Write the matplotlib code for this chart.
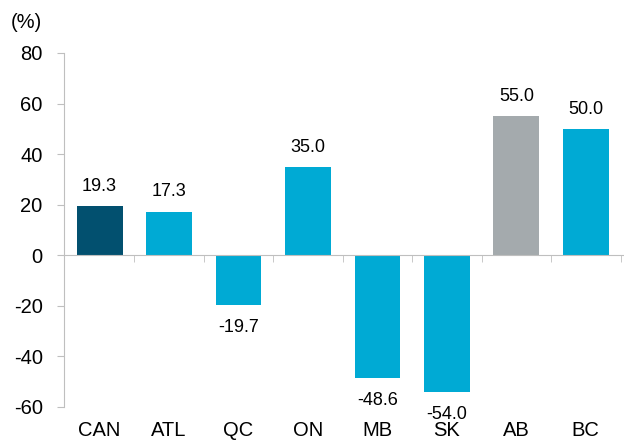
import matplotlib
matplotlib.use('Agg')
import matplotlib.pyplot as plt
import numpy as np

regions = ['CAN', 'ATL', 'QC', 'ON', 'MB', 'SK', 'AB', 'BC']
change = [19.3, 17.3, -19.7, 35.0, -48.6, -54.0, 55.0, 50.0]
bar_colors = ['#02506f', '#00aad4', '#00aad4', '#00aad4', '#00aad4', '#00aad4', '#a4aaad', '#00aad4']
y_ticks = [-60, -40, -20, 0, 20, 40, 60, 80]

plt.rcParams['font.family'] = ['Liberation Sans', 'DejaVu Sans']

fig = plt.figure(figsize=(6.24, 4.42), dpi=100)
ax = fig.add_axes([63.5 / 624, 35 / 442, 1 - 63.5 / 624, (407 - 53) / 442])

x = np.arange(len(regions))
ax.bar(x, change, width=0.66, color=bar_colors, zorder=1)

for xi, v in zip(x, change):
    if v >= 0:
        ax.annotate(f'{v:.1f}', (xi, v), xytext=(0, 8), textcoords='offset points',
                    ha='center', va='bottom', fontsize=13)
    else:
        ax.annotate(f'{v:.1f}', (xi, v), xytext=(0, -10), textcoords='offset points',
                    ha='center', va='top', fontsize=13)

ax.set_xlim(-0.52, 7.55)
ax.set_ylim(-60, 80)
ax.set_yticks(y_ticks)
ax.set_yticklabels([str(t) for t in y_ticks])

gray = '#bfbfbf'
for side in ['right', 'bottom']:
    ax.spines[side].set_visible(False)
ax.spines['left'].set_color(gray)
ax.spines['top'].set_position(('data', 0))
ax.spines['top'].set_color(gray)
ax.spines['top'].set_zorder(3)

ax.set_xticks(x)
ax.set_xticklabels(regions)
ax.set_xticks(np.arange(len(regions)) + 0.5, minor=True)
ax.tick_params(axis='x', which='major', bottom=True, top=False, length=0, pad=10, labelsize=14.5)
ax.tick_params(axis='x', which='minor', bottom=False, top=True, direction='in', length=5, color=gray)
ax.tick_params(axis='y', length=5, pad=10, color=gray, labelsize=14.5)

fig.text(11 / 624, 1 - 23 / 442, '(%)', fontsize=14.5, ha='left', va='center')

fig.savefig('out.png', dpi=100)
